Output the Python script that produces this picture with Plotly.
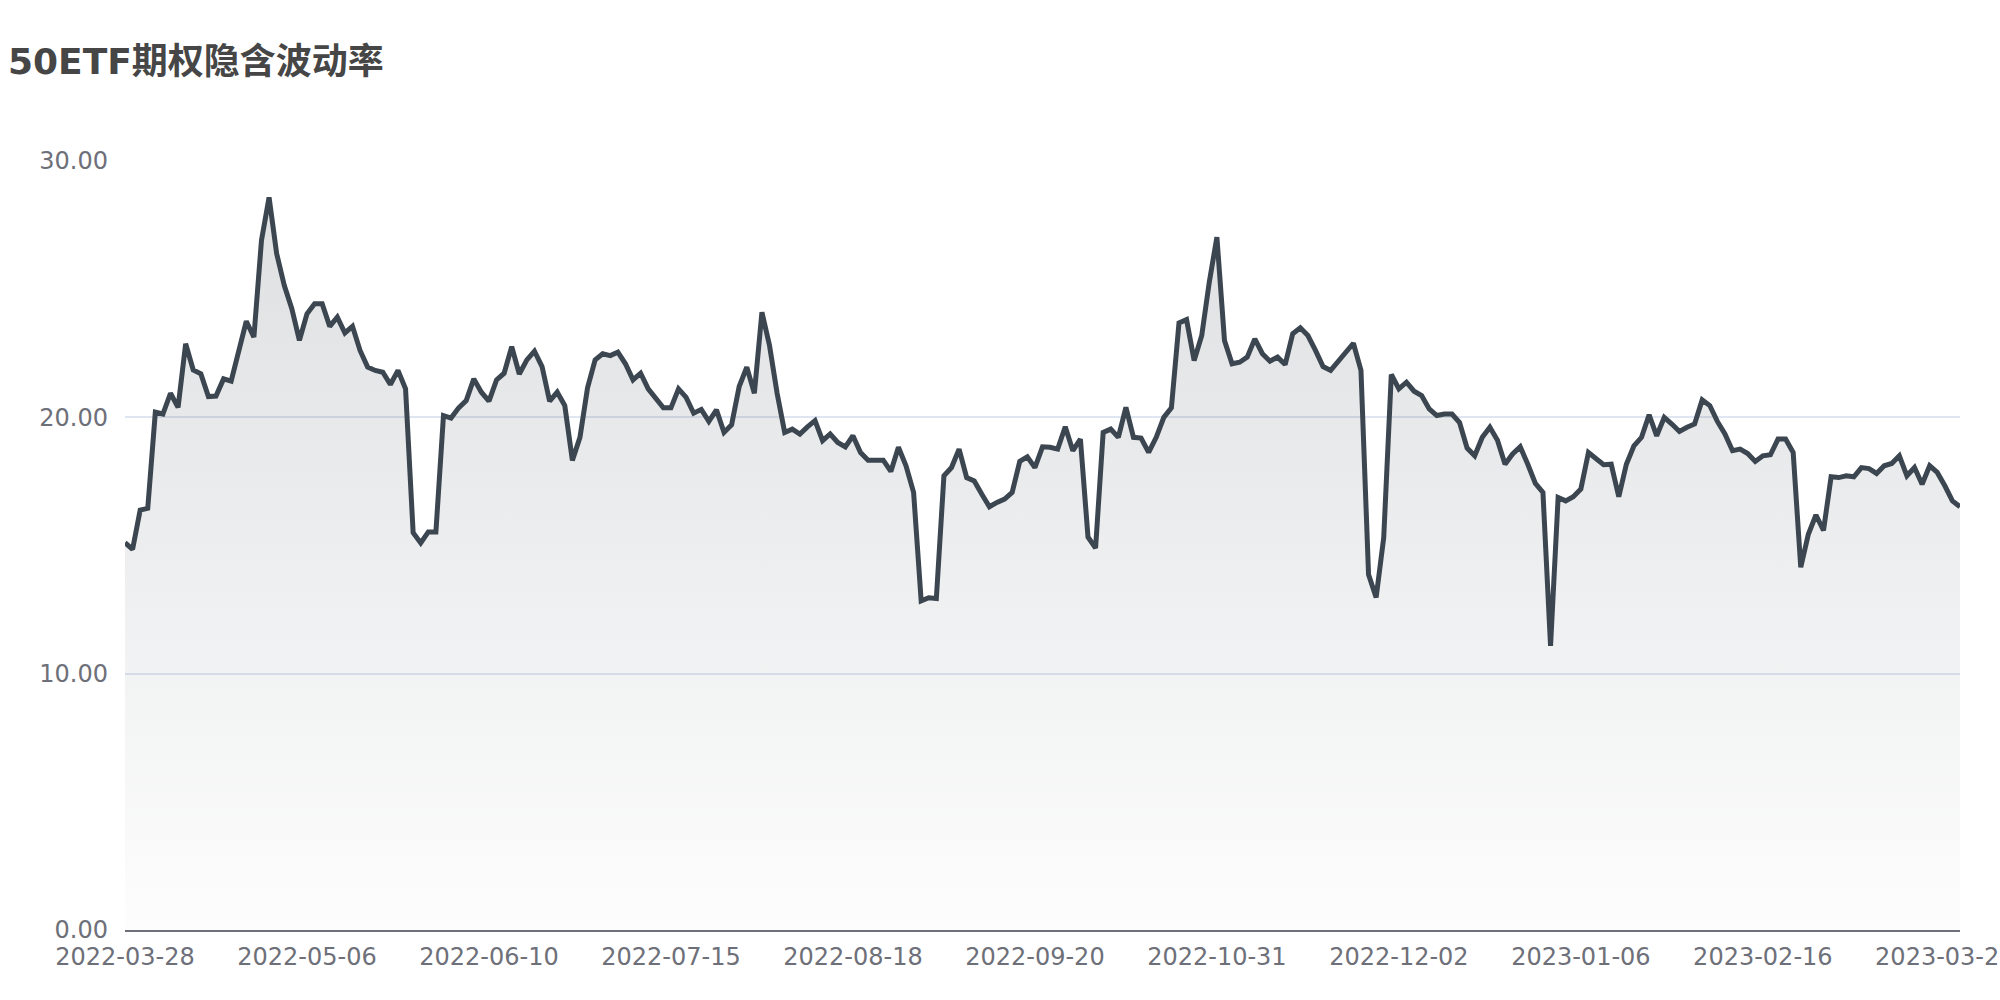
import plotly.graph_objects as go

# 50ETF option implied volatility, one value per trading day (index 0 = 2022-03-28)
iv = [
    15.11, 14.85, 16.38, 16.45, 20.20, 20.13, 20.94, 20.39, 22.87, 21.85,
    21.70, 20.81, 20.83, 21.50, 21.41, 22.54, 23.75, 23.13, 26.91, 28.58,
    26.39, 25.15, 24.24, 23.00, 24.04, 24.43, 24.43, 23.55, 23.91, 23.29,
    23.55, 22.61, 21.96, 21.83, 21.76, 21.28, 21.83, 21.11, 15.50, 15.10,
    15.53, 15.53, 20.07, 19.97, 20.37, 20.65, 21.50, 20.98, 20.63, 21.46,
    21.72, 22.76, 21.69, 22.24, 22.58, 21.98, 20.63, 20.98, 20.46, 18.32,
    19.22, 21.15, 22.24, 22.48, 22.41, 22.54, 22.09, 21.46, 21.72, 21.11,
    20.72, 20.37, 20.37, 21.11, 20.78, 20.16, 20.31, 19.84, 20.29, 19.41,
    19.71, 21.20, 21.96, 20.94, 24.10, 22.80, 20.94, 19.41, 19.54, 19.35,
    19.63, 19.87, 19.09, 19.35, 19.02, 18.85, 19.28, 18.63, 18.33, 18.33,
    18.33, 17.89, 18.83, 18.11, 17.07, 12.84, 12.96, 12.93, 17.72, 18.04,
    18.76, 17.65, 17.52, 17.00, 16.51, 16.68, 16.81, 17.07, 18.28, 18.46,
    18.04, 18.85, 18.83, 18.76, 19.63, 18.70, 19.15, 15.33, 14.90, 19.41,
    19.54, 19.22, 20.39, 19.22, 19.19, 18.63, 19.22, 20.00, 20.37, 23.68,
    23.81, 22.22, 23.19, 25.28, 27.03, 23.00, 22.09, 22.15, 22.35, 23.06,
    22.48, 22.19, 22.35, 22.06, 23.26, 23.49, 23.19, 22.61, 21.98, 21.83,
    22.19, 22.50, 22.89, 21.83, 13.87, 12.97, 15.31, 21.67, 21.11, 21.37,
    21.02, 20.85, 20.33, 20.07, 20.13, 20.13, 19.80, 18.80, 18.50, 19.22,
    19.61, 19.11, 18.17, 18.57, 18.85, 18.17, 17.42, 17.07, 11.08, 16.87,
    16.74, 16.90, 17.20, 18.63, 18.37, 18.15, 18.17, 16.90, 18.17, 18.89,
    19.22, 20.10, 19.28, 20.00, 19.74, 19.45, 19.61, 19.74, 20.68, 20.46,
    19.84, 19.35, 18.70, 18.76, 18.59, 18.28, 18.50, 18.54, 19.15, 19.15,
    18.63, 14.15, 15.44, 16.19, 15.59, 17.68, 17.65, 17.72, 17.68, 18.04,
    18.00, 17.81, 18.11, 18.20, 18.50, 17.72, 18.04, 17.39, 18.11, 17.85,
    17.33, 16.74, 16.51,
]

# date labels shown on the category axis (every 24th trading day)
tick_labels = [
    "2022-03-28", "2022-05-06", "2022-06-10", "2022-07-15", "2022-08-18",
    "2022-09-20", "2022-10-31", "2022-12-02", "2023-01-06", "2023-02-16",
    "2023-03-22",
]
label_step = 24

y_ticks = [0, 10, 20, 30]

x_index = list(range(len(iv)))
tick_index = [k * label_step for k in range(len(tick_labels))]

LINE = "#3C4651"
AXIS = "#6E7079"
GRID = "#E0E6F1"
FONT = "DejaVu Sans, Noto Sans CJK SC, sans-serif"

fig = go.Figure()
fig.add_trace(go.Scatter(
    x=x_index,
    y=iv,
    mode="lines",
    line=dict(color=LINE, width=5),
    fill="tozeroy",
    fillgradient=dict(
        type="vertical",
        colorscale=[[0, "rgba(61,70,81,0.01)"], [1, "rgba(61,70,81,0.17)"]],
    ),
    hoverinfo="skip",
    showlegend=False,
))

fig.update_layout(
    width=2000,
    height=1000,
    paper_bgcolor="white",
    plot_bgcolor="white",
    margin=dict(l=125, r=40, t=161, b=70),
    title=dict(
        text="<b>50ETF期权隐含波动率</b>",
        font=dict(family=FONT, size=36, color="#464646"),
        x=0.004, xref="container", xanchor="left",
        y=0.939, yref="container", yanchor="middle",
    ),
    font=dict(family=FONT, size=24, color=AXIS),
)

fig.update_xaxes(
    range=[0, len(iv) - 1],
    tickmode="array",
    tickvals=tick_index,
    ticktext=tick_labels,
    showgrid=False,
    zeroline=False,
    showline=True,
    linecolor=AXIS,
    linewidth=2,
    ticks="",
    automargin=False,
    ticklabelstandoff=4,
    ticklabeloverflow="allow",
    tickfont=dict(family=FONT, size=24, color=AXIS),
)

fig.update_yaxes(
    range=[0, 30],
    tickmode="array",
    tickvals=y_ticks,
    tickformat=".2f",
    showgrid=True,
    gridcolor=GRID,
    gridwidth=2,
    zeroline=False,
    showline=False,
    ticks="",
    automargin=False,
    ticklabelstandoff=16,
    tickfont=dict(family=FONT, size=24, color=AXIS),
)

fig.write_html(
    "out.html",
    config={"displayModeBar": False},
    post_script="document.body.style.margin='0';document.body.style.overflow='hidden';",
)
